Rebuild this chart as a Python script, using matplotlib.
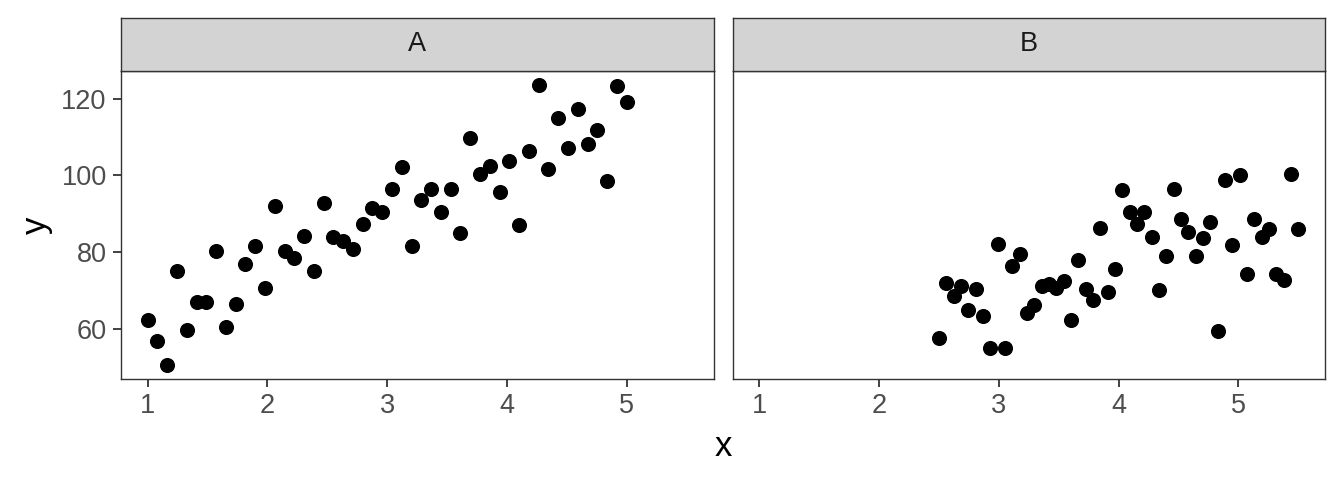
import numpy as np
import matplotlib
matplotlib.use("Agg")
import matplotlib.pyplot as plt

plt.rcParams["font.family"] = ["Liberation Sans", "DejaVu Sans"]

# ── Data ──────────────────────────────────────────────────────────────────────
panels = ["A", "B"]
x_a = np.linspace(1, 5, 50)
y_a = [62.4, 56.8, 50.5, 75.1, 59.6, 66.9, 67.0, 80.2, 60.4, 66.6,
       77.0, 81.5, 70.6, 92.0, 80.3, 78.6, 84.1, 75.1, 92.9, 83.9,
       83.0, 80.7, 87.3, 91.6, 90.5, 96.4, 102.2, 81.5, 93.6, 96.4,
       90.4, 96.4, 85.1, 109.9, 100.5, 102.5, 95.7, 103.8, 87.2, 106.5,
       123.6, 101.7, 115.1, 107.1, 117.3, 108.3, 111.9, 98.5, 123.4, 119.1]
x_b = np.linspace(2.5, 5.5, 50)
y_b = [57.5, 72.0, 68.5, 71.1, 65.0, 70.4, 63.4, 54.9, 82.2, 54.9,
       76.5, 79.6, 64.1, 66.2, 71.1, 71.7, 70.6, 72.4, 62.4, 77.9,
       70.4, 67.4, 86.4, 69.5, 75.7, 96.1, 90.4, 87.4, 90.4, 83.9,
       70.2, 79.0, 96.5, 88.6, 85.2, 79.0, 83.8, 88.0, 59.4, 98.7,
       81.8, 100.0, 74.2, 88.6, 83.9, 86.1, 74.4, 72.8, 100.3, 86.0]
xs = [x_a, x_b]
ys = [y_a, y_b]
x_ticks = [1, 2, 3, 4, 5]
y_ticks = [60, 80, 100, 120]

# ── Layout (figure fractions) ─────────────────────────────────────────────────
W, H = 1344, 480
fig = plt.figure(figsize=(W / 100, H / 100), dpi=100)
lefts = [120.7 / W, 732.5 / W]
width = 592.8 / W
bot = 1 - 379.3 / H
top = 1 - 71.0 / H
strip_top = 1 - 17.7 / H

# shared scales with ggplot-style 5% expansion
all_x = np.concatenate(xs)
all_y = np.concatenate([np.asarray(y_a), np.asarray(y_b)])
xr = all_x.max() - all_x.min()
yr = all_y.max() - all_y.min()
xlim = (all_x.min() - 0.05 * xr, all_x.max() + 0.05 * xr)
ylim = (all_y.min() - 0.05 * yr, all_y.max() + 0.05 * yr)

edge = "#333333"
tick_col = "#4d4d4d"
fs_tick = 19.5
fs_title = 25

for i, name in enumerate(panels):
    ax = fig.add_axes([lefts[i], bot, width, top - bot])
    ax.scatter(xs[i], ys[i], s=118, c="black", linewidths=0, zorder=3)
    ax.set_xlim(*xlim); ax.set_ylim(*ylim)
    ax.set_xticks(x_ticks)
    ax.set_yticks(y_ticks)
    ax.tick_params(length=5.6, width=1.3, color=edge, labelcolor=tick_col,
                   labelsize=fs_tick, pad=4.5)
    if i > 0:
        ax.tick_params(axis="y", left=False, labelleft=False)
    for sp in ax.spines.values():
        sp.set_color(edge); sp.set_linewidth(1.0)

    # facet strip
    st = fig.add_axes([lefts[i], top, width, strip_top - top])
    st.set_facecolor("#d3d3d3")
    st.set_xticks([]); st.set_yticks([])
    for sp in st.spines.values():
        sp.set_color(edge); sp.set_linewidth(1.0)
    st.text(0.5, 0.5, name, ha="center", va="center", fontsize=fs_tick,
            color="#1a1a1a", transform=st.transAxes)

fig.text(723 / W, 1 - 446 / H, "x", ha="center", va="center", fontsize=fs_title)
fig.text(36 / W, 1 - 225 / H, "y", ha="center", va="center", fontsize=fs_title,
         rotation=90)

fig.savefig("out.png", dpi=100)
plt.close(fig)
